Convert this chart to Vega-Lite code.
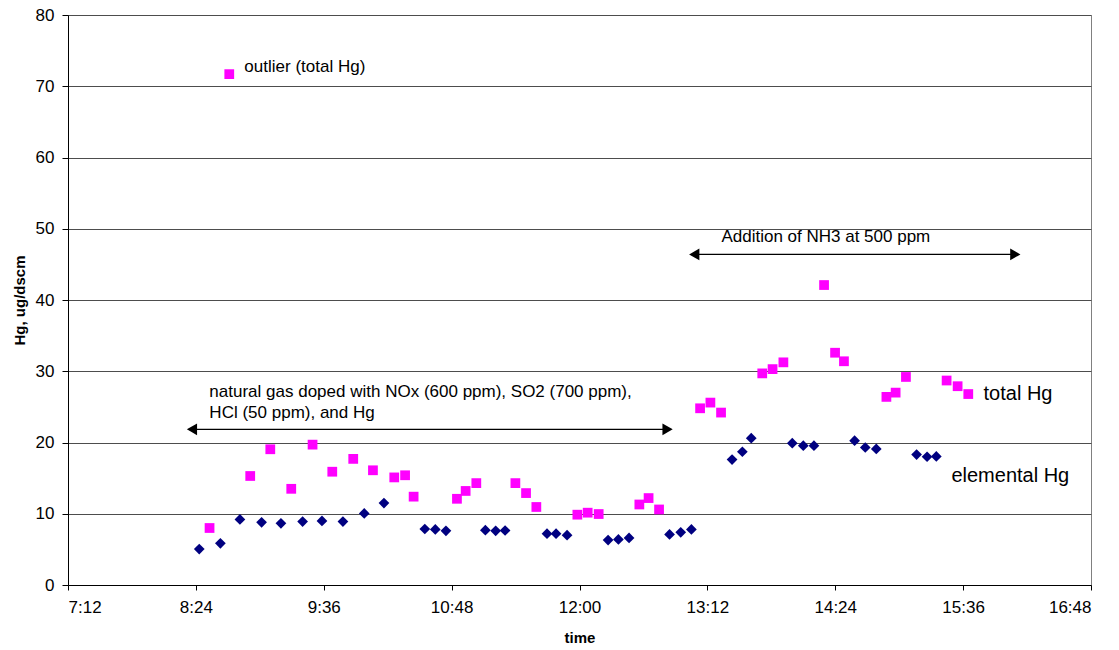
{
  "$schema": "https://vega.github.io/schema/vega-lite/v6.json",
  "autosize": "none",
  "width": 1023,
  "height": 570,
  "padding": {"left": 68, "top": 15, "right": 28, "bottom": 65},
  "background": "white",
  "config": {
    "font": "Liberation Sans",
    "view": {"stroke": "#808080", "strokeWidth": 1},
    "axis": {"labelFont": "Liberation Sans", "titleFont": "Liberation Sans"}
  },
  "datasets": {
    "points": [
      {"series": "elemental Hg", "t": 505.9, "hg": 5.05},
      {"series": "elemental Hg", "t": 517.8, "hg": 5.85},
      {"series": "elemental Hg", "t": 528.8, "hg": 9.2},
      {"series": "elemental Hg", "t": 541.0, "hg": 8.8},
      {"series": "elemental Hg", "t": 551.9, "hg": 8.65},
      {"series": "elemental Hg", "t": 564.1, "hg": 8.9},
      {"series": "elemental Hg", "t": 575.0, "hg": 9.0},
      {"series": "elemental Hg", "t": 586.8, "hg": 8.9},
      {"series": "elemental Hg", "t": 598.8, "hg": 10.05},
      {"series": "elemental Hg", "t": 609.9, "hg": 11.5},
      {"series": "elemental Hg", "t": 632.9, "hg": 7.86},
      {"series": "elemental Hg", "t": 638.8, "hg": 7.8},
      {"series": "elemental Hg", "t": 644.8, "hg": 7.6},
      {"series": "elemental Hg", "t": 667.0, "hg": 7.7},
      {"series": "elemental Hg", "t": 672.8, "hg": 7.6},
      {"series": "elemental Hg", "t": 678.1, "hg": 7.65},
      {"series": "elemental Hg", "t": 701.7, "hg": 7.2},
      {"series": "elemental Hg", "t": 706.8, "hg": 7.2},
      {"series": "elemental Hg", "t": 713.0, "hg": 7.0},
      {"series": "elemental Hg", "t": 736.1, "hg": 6.3},
      {"series": "elemental Hg", "t": 741.9, "hg": 6.4},
      {"series": "elemental Hg", "t": 747.9, "hg": 6.6},
      {"series": "elemental Hg", "t": 770.7, "hg": 7.1},
      {"series": "elemental Hg", "t": 777.0, "hg": 7.4},
      {"series": "elemental Hg", "t": 783.0, "hg": 7.8},
      {"series": "elemental Hg", "t": 805.9, "hg": 17.6},
      {"series": "elemental Hg", "t": 811.7, "hg": 18.7},
      {"series": "elemental Hg", "t": 816.7, "hg": 20.6},
      {"series": "elemental Hg", "t": 839.8, "hg": 19.9},
      {"series": "elemental Hg", "t": 846.0, "hg": 19.55},
      {"series": "elemental Hg", "t": 852.0, "hg": 19.55},
      {"series": "elemental Hg", "t": 874.9, "hg": 20.25},
      {"series": "elemental Hg", "t": 880.9, "hg": 19.3},
      {"series": "elemental Hg", "t": 887.1, "hg": 19.1},
      {"series": "elemental Hg", "t": 909.8, "hg": 18.3},
      {"series": "elemental Hg", "t": 915.7, "hg": 18.0},
      {"series": "elemental Hg", "t": 920.9, "hg": 18.05},
      {"series": "total Hg", "t": 511.7, "hg": 8.0},
      {"series": "total Hg", "t": 522.8, "hg": 71.7},
      {"series": "total Hg", "t": 534.6, "hg": 15.3},
      {"series": "total Hg", "t": 545.9, "hg": 19.05},
      {"series": "total Hg", "t": 557.7, "hg": 13.5},
      {"series": "total Hg", "t": 569.7, "hg": 19.7},
      {"series": "total Hg", "t": 580.8, "hg": 15.9},
      {"series": "total Hg", "t": 592.6, "hg": 17.7},
      {"series": "total Hg", "t": 603.7, "hg": 16.1},
      {"series": "total Hg", "t": 615.7, "hg": 15.1},
      {"series": "total Hg", "t": 621.8, "hg": 15.4},
      {"series": "total Hg", "t": 626.6, "hg": 12.4},
      {"series": "total Hg", "t": 651.0, "hg": 12.1},
      {"series": "total Hg", "t": 655.9, "hg": 13.2},
      {"series": "total Hg", "t": 661.9, "hg": 14.3},
      {"series": "total Hg", "t": 683.9, "hg": 14.3},
      {"series": "total Hg", "t": 689.9, "hg": 12.9},
      {"series": "total Hg", "t": 695.7, "hg": 10.95},
      {"series": "total Hg", "t": 718.8, "hg": 9.87},
      {"series": "total Hg", "t": 724.6, "hg": 10.15},
      {"series": "total Hg", "t": 730.8, "hg": 9.96},
      {"series": "total Hg", "t": 753.7, "hg": 11.3},
      {"series": "total Hg", "t": 758.9, "hg": 12.2},
      {"series": "total Hg", "t": 764.8, "hg": 10.6},
      {"series": "total Hg", "t": 787.9, "hg": 24.8},
      {"series": "total Hg", "t": 793.7, "hg": 25.6},
      {"series": "total Hg", "t": 799.7, "hg": 24.2},
      {"series": "total Hg", "t": 822.9, "hg": 29.7},
      {"series": "total Hg", "t": 828.7, "hg": 30.3},
      {"series": "total Hg", "t": 834.8, "hg": 31.25},
      {"series": "total Hg", "t": 857.7, "hg": 42.1},
      {"series": "total Hg", "t": 863.9, "hg": 32.6},
      {"series": "total Hg", "t": 868.9, "hg": 31.4},
      {"series": "total Hg", "t": 892.8, "hg": 26.4},
      {"series": "total Hg", "t": 898.0, "hg": 27.0},
      {"series": "total Hg", "t": 903.8, "hg": 29.2},
      {"series": "total Hg", "t": 926.7, "hg": 28.7},
      {"series": "total Hg", "t": 932.9, "hg": 27.9},
      {"series": "total Hg", "t": 938.9, "hg": 26.8}
    ],
    "arrows": [
      {"t": 501.8, "t2": 769.6, "y": 21.85},
      {"t": 784.6, "t2": 965.4, "y": 46.4}
    ],
    "heads": [
      {"t": 501.8, "y": 21.85, "dir": "left"},
      {"t": 769.6, "y": 21.85, "dir": "right"},
      {"t": 784.6, "y": 46.4, "dir": "left"},
      {"t": 965.4, "y": 46.4, "dir": "right"}
    ],
    "notes": [
      {"t": 531.3, "y": 72.7, "text": "outlier (total Hg)"},
      {"t": 799.9, "y": 48.8, "text": "Addition of NH3 at 500 ppm"},
      {"t": 511.6, "y": 27.15, "text": "natural gas doped with NOx (600 ppm), SO2 (700 ppm),"},
      {"t": 511.6, "y": 24.2, "text": "HCl (50 ppm), and Hg"}
    ],
    "labels": [
      {"t": 947.5, "y": 26.8, "text": "total Hg"},
      {"t": 929.4, "y": 15.3, "text": "elemental Hg"}
    ]
  },
  "layer": [
    {
      "data": {"name": "points"},
      "mark": {"type": "point", "filled": true, "opacity": 1},
      "encoding": {
        "x": {
          "field": "t", "type": "quantitative",
          "scale": {"domain": [432, 1008], "nice": false, "zero": false},
          "axis": {
            "title": "time",
            "values": [432, 504, 576, 648, 720, 792, 864, 936, 1008],
            "labelExpr": "floor(datum.value/60) + ':' + (datum.value%60 < 10 ? '0' : '') + (datum.value%60)",
            "grid": false,
            "domainColor": "#000000",
            "tickColor": "#000000",
            "tickSize": 5,
            "labelFontSize": 17,
            "labelColor": "#000000",
            "labelPadding": 9,
            "titleFontSize": 15,
            "titleFontWeight": "bold",
            "titleColor": "#000000",
            "titlePadding": 15
          }
        },
        "y": {
          "field": "hg", "type": "quantitative",
          "scale": {"domain": [0, 80], "nice": false},
          "axis": {
            "title": "Hg, ug/dscm",
            "values": [0, 10, 20, 30, 40, 50, 60, 70, 80],
            "grid": true,
            "gridColor": "#4d4d4d",
            "gridWidth": 1,
            "domainColor": "#000000",
            "tickColor": "#000000",
            "tickSize": 6,
            "labelFontSize": 17,
            "labelColor": "#000000",
            "labelPadding": 8,
            "titleFontSize": 15,
            "titleFontWeight": "bold",
            "titleColor": "#000000",
            "titlePadding": 8
          }
        },
        "shape": {
          "field": "series", "type": "nominal",
          "scale": {"domain": ["total Hg", "elemental Hg"], "range": ["square", "diamond"]},
          "legend": null
        },
        "color": {
          "field": "series", "type": "nominal",
          "scale": {"domain": ["total Hg", "elemental Hg"], "range": ["#FF00FF", "#000080"]},
          "legend": null
        },
        "size": {
          "field": "series", "type": "nominal",
          "scale": {"domain": ["total Hg", "elemental Hg"], "range": [95, 115]},
          "legend": null
        }
      }
    },
    {
      "data": {"name": "arrows"},
      "mark": {"type": "rule", "color": "#000000", "strokeWidth": 1.3},
      "encoding": {
        "x": {"field": "t", "type": "quantitative"},
        "x2": {"field": "t2"},
        "y": {"field": "y", "type": "quantitative"}
      }
    },
    {
      "data": {"name": "heads"},
      "transform": [{"filter": "datum.dir === 'left'"}],
      "mark": {"type": "point", "shape": "triangle-left", "filled": true, "color": "#000000", "opacity": 1, "size": 140},
      "encoding": {
        "x": {"field": "t", "type": "quantitative"},
        "y": {"field": "y", "type": "quantitative"}
      }
    },
    {
      "data": {"name": "heads"},
      "transform": [{"filter": "datum.dir === 'right'"}],
      "mark": {"type": "point", "shape": "triangle-right", "filled": true, "color": "#000000", "opacity": 1, "size": 140},
      "encoding": {
        "x": {"field": "t", "type": "quantitative"},
        "y": {"field": "y", "type": "quantitative"}
      }
    },
    {
      "data": {"name": "notes"},
      "mark": {"type": "text", "align": "left", "baseline": "middle", "fontSize": 17, "font": "Liberation Sans", "color": "#000000"},
      "encoding": {
        "x": {"field": "t", "type": "quantitative"},
        "y": {"field": "y", "type": "quantitative"},
        "text": {"field": "text", "type": "nominal"}
      }
    },
    {
      "data": {"name": "labels"},
      "mark": {"type": "text", "align": "left", "baseline": "middle", "fontSize": 20, "font": "Liberation Sans", "color": "#000000"},
      "encoding": {
        "x": {"field": "t", "type": "quantitative"},
        "y": {"field": "y", "type": "quantitative"},
        "text": {"field": "text", "type": "nominal"}
      }
    }
  ]
}
